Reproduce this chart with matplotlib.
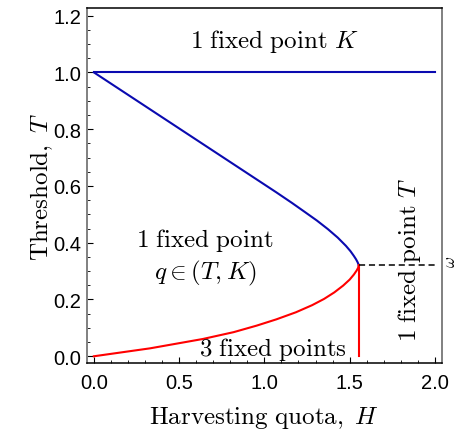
import matplotlib
matplotlib.use('Agg')
from matplotlib import pyplot as plt
from matplotlib.ticker import MultipleLocator

plt.rcParams['mathtext.fontset'] = 'cm'
plt.rcParams['font.family'] = ['Liberation Sans', 'DejaVu Sans']

# fold curve H(T): upper (blue) and lower (red) branches
T_upper = [1.0, 0.577, 0.54, 0.507, 0.478, 0.448, 0.418, 0.389, 0.37,
           0.354, 0.342, 0.332, 0.325, 0.32]
H_upper = [0.0, 1.071, 1.162, 1.240, 1.308, 1.372, 1.430, 1.478, 1.505,
           1.524, 1.537, 1.546, 1.551, 1.553]
T_lower = [0.0, 0.028, 0.061, 0.085, 0.108, 0.13, 0.155, 0.18, 0.202,
           0.225, 0.249, 0.27, 0.288, 0.302, 0.312, 0.32]
H_lower = [0.0, 0.33, 0.64, 0.82, 0.955, 1.07, 1.185, 1.28, 1.35,
           1.41, 1.462, 1.5, 1.525, 1.541, 1.55, 1.553]
H_fold = 1.553
T_fold = 0.32
H_max = 2.0
K = 1.0

blue = '#0a0ab0'
red = '#ff0000'

fig = plt.figure(figsize=(4.57, 4.31), dpi=100)
ax = fig.add_axes([0.19, 0.1555, 0.777, 0.8235])

lw = 1.5
ax.plot([0, H_max], [K, K], color=blue, lw=lw)
ax.plot(H_upper, T_upper, color=blue, lw=lw, solid_joinstyle='round')
ax.plot(H_lower, T_lower, color=red, lw=lw, solid_joinstyle='round')
ax.plot([H_fold, H_fold], [0, T_fold], color=red, lw=lw)
ax.plot([H_fold, H_max], [T_fold, T_fold], color='black', lw=1.1, ls=(0, (4, 2.5)))

ax.set_xlim(-0.041, 2.041)
ax.set_ylim(-0.0236, 1.2264)

ax.xaxis.set_major_locator(MultipleLocator(0.5))
ax.xaxis.set_minor_locator(MultipleLocator(0.1))
ax.yaxis.set_major_locator(MultipleLocator(0.2))
ax.yaxis.set_minor_locator(MultipleLocator(0.05))
ax.xaxis.set_major_formatter(lambda v, p: f'{v:.1f}')
ax.yaxis.set_major_formatter(lambda v, p: f'{v:.1f}')
ax.tick_params(which='both', direction='in', labelsize=14.5, colors='black',
               top=False, right=False)
ax.tick_params(which='major', length=4, width=0.8)
ax.tick_params(axis='x', which='major', pad=7)
ax.tick_params(axis='y', which='major', pad=4)
ax.tick_params(which='minor', length=2.5, width=0.6)

for side in ['left', 'right']:
    ax.spines[side].set_color('#808080')
    ax.spines[side].set_linewidth(1.4)
for side in ['top', 'bottom']:
    ax.spines[side].set_color('black')
    ax.spines[side].set_linewidth(1.1)

ax.set_xlabel(r'$\mathrm{Harvesting\ quota,}\ H$', fontsize=18, labelpad=9)
ax.set_ylabel(r'$\mathrm{Threshold,}\ T$', fontsize=18, labelpad=-1)

fs = 18
ax.text(1.056, 1.111, r'$\mathrm{1\ fixed\ point}\ K$', fontsize=fs,
        ha='center', va='center')
ax.text(0.65, 0.413, r'$\mathrm{1\ fixed\ point}$', fontsize=fs,
        ha='center', va='center')
ax.text(0.656, 0.296, r'$q\in(T,K)$', fontsize=fs, ha='center', va='center')
ax.text(1.05, 0.026, r'$\mathrm{3\ fixed\ points}$', fontsize=fs,
        ha='center', va='center')
ax.text(1.853, 0.054, r'$\mathrm{1\ fixed\ point}\ T$', fontsize=fs,
        ha='center', va='bottom', rotation=90)
fig.text(0.985, 0.392, r'$\omega$', fontsize=12, rotation=90,
         ha='center', va='center')

fig.savefig('out.png', dpi=100)
